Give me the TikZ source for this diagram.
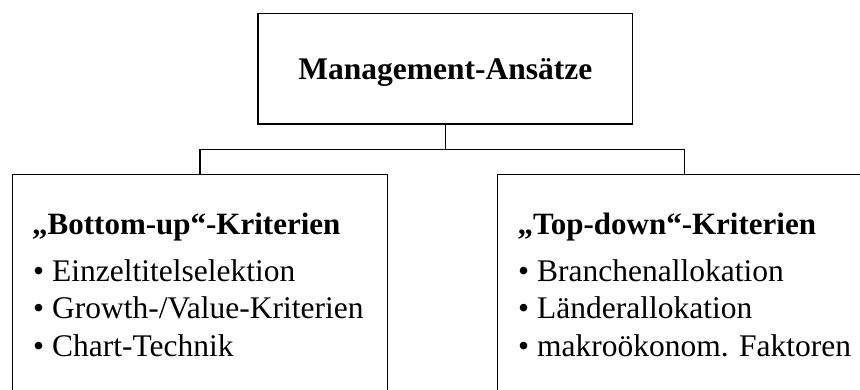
\documentclass[tikz,border=0pt]{standalone}
\usepackage{fontspec}
\setmainfont{Liberation Serif}
\tikzset{
  boxline/.style={draw=black, line width=1.2pt, rectangle, inner sep=0pt},
  headtxt/.style={inner sep=0pt, anchor=base west, font=\fontsize{31}{31}\selectfont\bfseries},
  itemtxt/.style={inner sep=0pt, anchor=base west, font=\fontsize{31.5}{31.5}\selectfont},
  conn/.style={draw=black, line width=1.2pt}
}
\begin{document}
\begin{tikzpicture}[x=1pt,y=-1pt]
\useasboundingbox (0,0) rectangle (860,390);
\clip (0,0) rectangle (860,390);
% top box
\node[boxline, anchor=base, minimum width=374.7pt, text height=66pt, text depth=44.7pt,
      font=\fontsize{31.5}{31.5}\selectfont\bfseries] (top) at (445.3,79.3) {Management-Ansätze};
% lower boxes
\node[boxline, anchor=north west, minimum width=374.7pt, minimum height=240pt] (left) at (12,174) {};
\node[boxline, anchor=north west, minimum width=390pt, minimum height=240pt] (right) at (496.7,174) {};
% connectors
\coordinate (lj) at (left.north |- 0,149.3);
\coordinate (rj) at (right.north -| 684.3,0);
\coordinate (rjj) at (684.3,149.3);
\draw[conn] (top.south) -- (top.south |- lj);
\draw[conn] (left.north) -- (lj) -- (rjj) -- (rj);
% texts left
\node[headtxt] (lh) at (32,235) {„Bottom-up“-Kriterien};
\node[itemtxt] (l1) at (33,281.7) {• Einzeltitelselektion};
\node[itemtxt] (l2) at (33,319) {• Growth-/Value-Kriterien};
\node[itemtxt] (l3) at (33,356.7) {• Chart-Technik};
% texts right
\node[headtxt] (rh) at (517.3,235) {„Top-down“-Kriterien};
\node[itemtxt] (r1) at (518,281.7) {• Branchenallokation};
\node[itemtxt] (r2) at (518,319) {• Länderallokation};
\node[itemtxt] (r3) at (518,356.7) {• makroökonom. Faktoren};
\end{tikzpicture}
\end{document}
